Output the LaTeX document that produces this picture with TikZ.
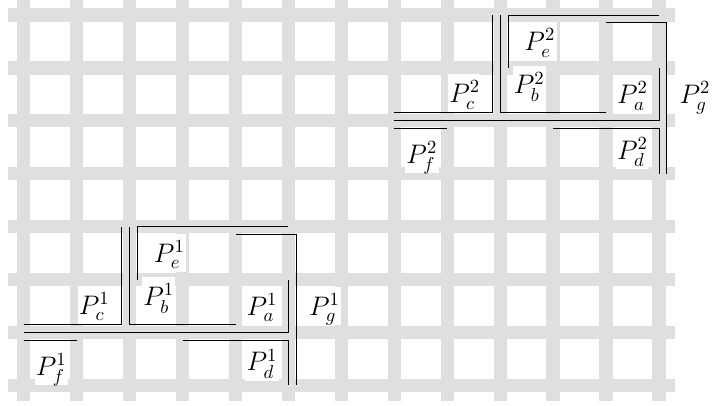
\documentclass[tikz,border=0pt]{standalone}
\usepackage{amsmath}
\usepackage{amssymb}
\usetikzlibrary{calc}
\tikzset{
  gridline/.style={line width=0.25cm, gray!25},
  piece/.style={black, line width=0.5pt},
  plabel/.style={font=\Large, fill=white, inner sep=0.7pt,
    text height=14.5pt, text depth=4.7pt}
}

\begin{document}
\begin{tikzpicture}
  \useasboundingbox (-0.45,-0.387) rectangle (13.04,7.283);
  \draw[gridline] (-0.3,-0.3) grid (12.3,7.3);
  \foreach \k/\dx/\dy in {1/0/0, 2/7/4}{
    \begin{scope}[shift={(\dx,\dy)}]
      % piece boundaries
      \draw[piece] (0,1.15) -- (1.85,1.15) -- (1.85,3);
      \draw[piece] (4,1.15) -- (2,1.15) -- (2,3);
      \draw[piece] (2.15,2) -- (2.15,3) -- (5,3);
      \draw[piece] (0,1) -- (5,1) -- (5,2);
      \draw[piece] (0,0.85) -- (1,0.85);
      \draw[piece] (3,0.85) -- (5,0.85) -- (5,0);
      \draw[piece] (4,2.85) -- (5.15,2.85) -- (5.15,0);
      % labels
      \node[plabel] (pa\k) at (4.50,1.50) {$P_a^{\k}$};
      \node[plabel] (pb\k) at (2.55,1.68) {$P_b^{\k}$};
      \node[plabel] (pc\k) at (1.33,1.52) {$P_c^{\k}$};
      \node[plabel] (pd\k) at (4.50,0.45) {$P_d^{\k}$};
      \node[plabel] (pe\k) at (2.75,2.50) {$P_e^{\k}$};
      \node[plabel] (pf\k) at (0.52,0.37) {$P_f^{\k}$};
      \node[plabel] (pg\k) at (5.68,1.50) {$P_g^{\k}$};
    \end{scope}
  }
\end{tikzpicture}
\end{document}
